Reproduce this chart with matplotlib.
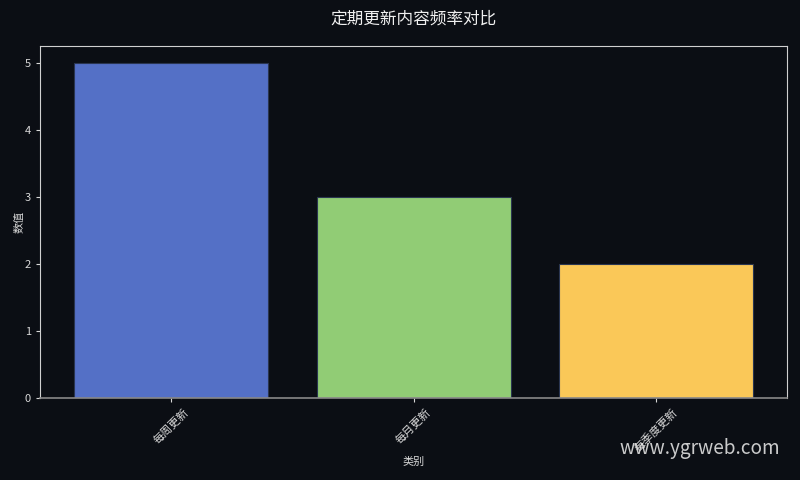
import matplotlib
matplotlib.use("Agg")
import matplotlib.pyplot as plt

plt.rcParams['font.family'] = ['Noto Sans CJK SC', 'DejaVu Sans']

categories = ["每周更新", "每月更新", "每季度更新"]
values = [5, 3, 2]
colors = ["#5470c6", "#91cc75", "#fac858"]

bg = "#0b0e14"
fg = "#d8d8d8"

fig = plt.figure(figsize=(8, 4.8), dpi=100, facecolor=bg)
ax = fig.add_axes([0.05, 0.171, 0.934, 0.733], facecolor=bg)

ax.bar(categories, values, color=colors, width=0.8, edgecolor="#2a3550", linewidth=0.8)

ax.set_title("定期更新内容频率对比", color="#f0f0f0", fontsize=12, pad=16)
ax.set_xlabel("类别", color=fg, fontsize=8, labelpad=2)
ax.set_ylabel("数值", color=fg, fontsize=8, labelpad=0)

ax.tick_params(axis='both', colors=fg, labelsize=8, length=3)
plt.setp(ax.get_xticklabels(), rotation=45)

for side in ["left", "top", "right"]:
    ax.spines[side].set_color("#d0d0d0")
ax.spines["bottom"].set_color("#888888")
ax.spines["bottom"].set_linewidth(1.2)

fig.text(0.975, 0.065, "www.ygrweb.com", color="#e0e0e0", fontsize=13.7,
         ha="right", va="center", alpha=0.9)

fig.savefig("out.png", dpi=100, facecolor=bg)
